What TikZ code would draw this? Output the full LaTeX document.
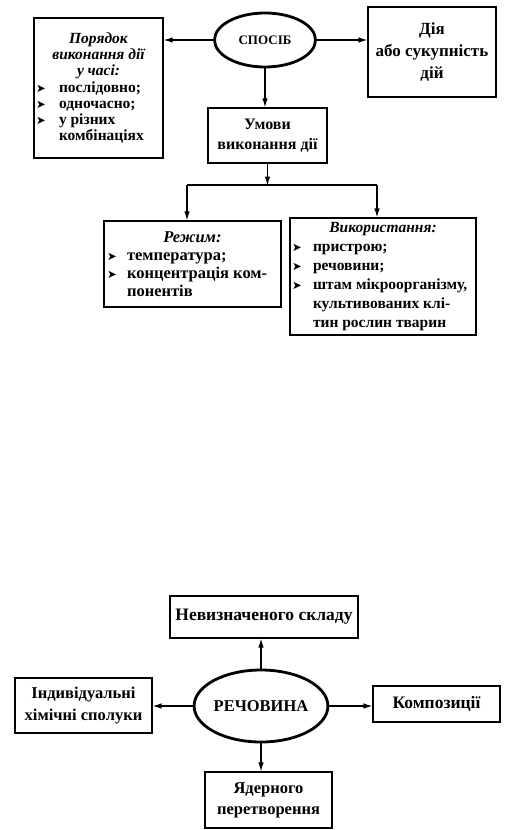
\documentclass[tikz,border=0pt]{standalone}
\usepackage{fontspec}
\setmainfont{Liberation Serif}
\newfontfamily\symf{DejaVu Sans}
\usetikzlibrary{shapes.geometric,arrows.meta}
\newcommand\bul{{\symf\fontsize{11.5}{11.5}\selectfont ➤}}
\newcommand\hd[2]{\makebox[#1][c]{\itshape #2}}
\newcommand\li[3]{\makebox[#1][l]{\makebox[#2][l]{\bul}#3}}
\newcommand\lc[3]{\makebox[#1][l]{\hspace*{#2}#3}}
\begin{document}
\begin{tikzpicture}[x=1pt,y=-1pt,
  box/.style={draw,line width=1.1pt,inner sep=2pt,font=\bfseries},
  oval/.style={draw,ellipse,line width=2.8pt,inner sep=0pt},
  arr/.style={line width=1.2pt,-{Latex[length=9pt,width=5.5pt]}}]
\useasboundingbox (0,0) rectangle (519,830);
% ---------- upper scheme ----------
\node[oval,minimum width=101pt,minimum height=54pt,font=\bfseries\fontsize{13}{14}\selectfont] (S) at (265,40) {\textbf{СПОСІБ}};
\node[box,minimum width=129pt,minimum height=140pt,align=left,font=\bfseries\fontsize{15.5}{16.2}\selectfont] (P) at (98.5,88)
 {\hd{125pt}{Порядок}\\ \hd{125pt}{виконання дії}\\ \hd{125pt}{у часі:}\\
  \li{125pt}{23pt}{послідовно;}\\ \li{125pt}{23pt}{одночасно;}\\ \li{125pt}{23pt}{у різних}\\ \lc{125pt}{23pt}{комбінаціях}};
\node[box,minimum width=128pt,minimum height=90pt,align=center,font=\bfseries\fontsize{17}{22}\selectfont] (D) at (432,52) {Дія\\або сукупність\\дій};
\node[box,minimum width=119pt,minimum height=55pt,align=center,font=\bfseries\fontsize{16}{20}\selectfont] (U) at (267.5,135.5) {Умови\\виконання дії};
\node[box,inner xsep=3pt,minimum width=177pt,minimum height=86pt,align=left,font=\bfseries\fontsize{16.5}{18}\selectfont] (R) at (192.5,264)
 {\hd{171pt}{Режим:}\\ \li{171pt}{20pt}{температура;}\\ \li{171pt}{20pt}{концентрація ком-}\\ \lc{171pt}{20pt}{понентів}};
\node[box,minimum width=186pt,minimum height=117pt,align=left,font=\bfseries\fontsize{15.5}{19}\selectfont] (V) at (383,276.5)
 {\hd{182pt}{Використання:}\\ \li{182pt}{21pt}{пристрою;}\\ \li{182pt}{21pt}{речовини;}\\ \li{182pt}{21pt}{штам мікроорганізму,}\\ \lc{182pt}{21pt}{культивованих клі-}\\ \lc{182pt}{21pt}{тин рослин тварин}};
\draw[arr] (S.west) -- (S.west -| P.east);
\draw[arr] (S.east) -- (S.east -| D.west);
\draw[arr] (S.south) -- (S.south |- U.north);
\path (U.south) ++(0,22) coordinate (J);
\coordinate (JL) at (187,185);
\coordinate (JR) at (377,185);
\draw[arr] (U.south) -- (J);
\draw[line width=1.2pt] (JL) -- (JR);
\draw[arr] (JL) -- (JL |- R.north);
\draw[arr] (JR) -- (JR |- V.north);
% ---------- lower scheme ----------
\node[oval,minimum width=118pt,minimum height=72pt,font=\bfseries\fontsize{16.5}{18}\selectfont] (E) at (261,706) {\textbf{РЕЧОВИНА}};
\node[box,minimum width=188pt,minimum height=42pt,font=\bfseries\fontsize{17.5}{18}\selectfont] (N) at (264,617) {Невизначеного складу};
\node[box,minimum width=137pt,minimum height=55pt,align=center,font=\bfseries\fontsize{16.5}{22}\selectfont] (I) at (83.5,705.5) {Індивідуальні\\хімічні сполуки};
\node[box,minimum width=127pt,minimum height=36pt,font=\bfseries\fontsize{17.5}{18}\selectfont] (K) at (436.5,704) {Композиції};
\node[box,minimum width=127pt,minimum height=56pt,align=center,font=\bfseries\fontsize{16.5}{21}\selectfont] (Y) at (268.5,800) {Ядерного\\перетворення};
\draw[arr] (E.north) -- (E.north |- N.south);
\draw[arr] (E.west) -- (E.west -| I.east);
\draw[arr] (E.east) -- (E.east -| K.west);
\draw[arr] (E.south) -- (E.south |- Y.north);
\end{tikzpicture}
\end{document}
